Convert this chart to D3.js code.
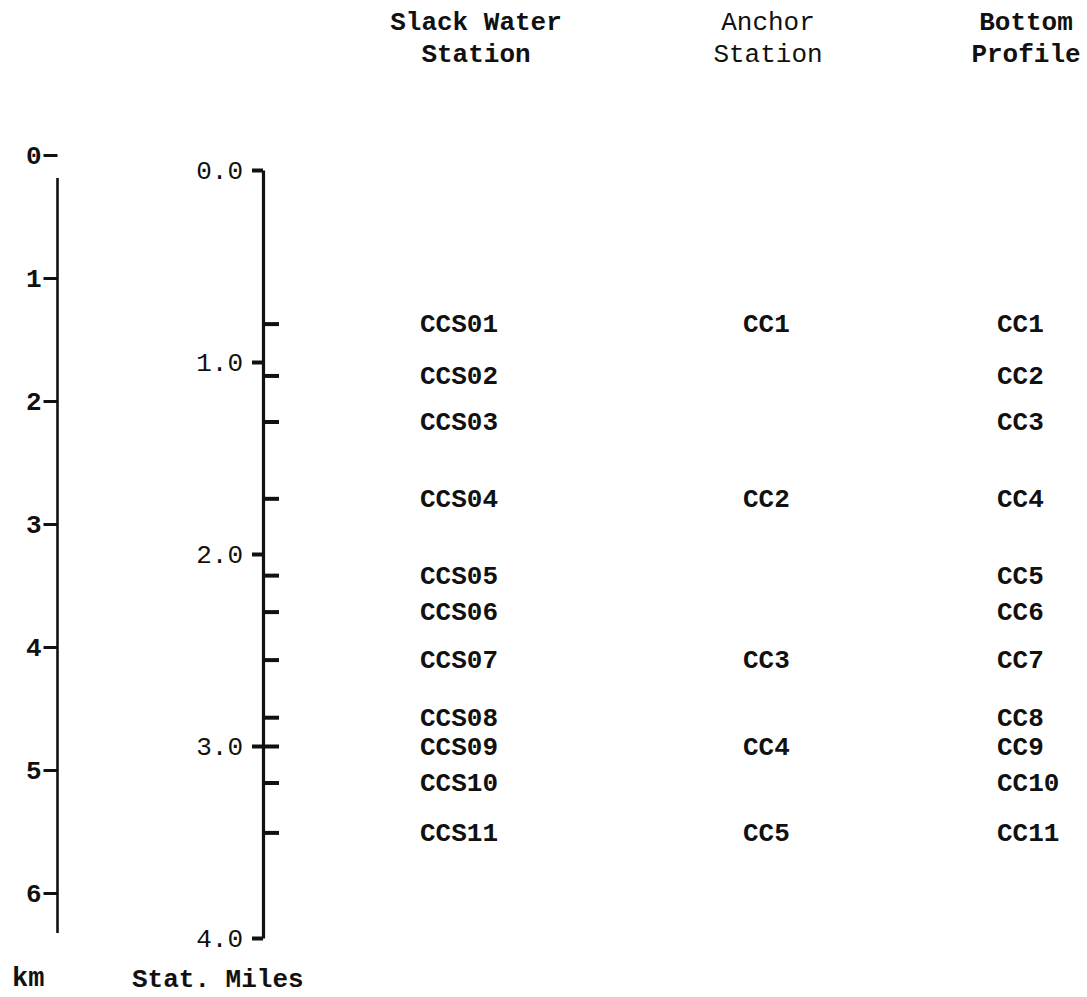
<!DOCTYPE html>
<html>
<head>
<meta charset="utf-8">
<script src="https://cdn.jsdelivr.net/npm/d3@7"></script>
<style>
  html, body { margin: 0; padding: 0; background: #fff; }
  svg { display: block; }
  text { fill: #111; font-family: "Liberation Mono", "DejaVu Sans Mono", monospace; }
</style>
</head>
<body>
<script>
// ---- data ----
const kmTicks = [0, 1, 2, 3, 4, 5, 6];
const mileTicks = [0, 1, 2, 3, 4];
const stationMiles = [0.80, 1.07, 1.31, 1.71, 2.11, 2.30, 2.55, 2.85, 3.00, 3.19, 3.45];
const slackWater = ["CCS01", "CCS02", "CCS03", "CCS04", "CCS05", "CCS06", "CCS07", "CCS08", "CCS09", "CCS10", "CCS11"];
const anchorStation = ["CC1", null, null, "CC2", null, null, "CC3", null, "CC4", null, "CC5"];
const bottomProfile = ["CC1", "CC2", "CC3", "CC4", "CC5", "CC6", "CC7", "CC8", "CC9", "CC10", "CC11"];
const columns = ["Slack Water\nStation", "Anchor\nStation", "Bottom\nProfile"];
const kmTitle = "km";
const mileTitle = "Stat. Miles";

// ---- layout ----
const W = 1087, H = 997;
const svg = d3.select("body").append("svg").attr("width", W).attr("height", H);

const yMiles = d3.scaleLinear().domain([0, 4]).range([170, 938]);
const yKm = d3.scaleLinear().domain([0, 6]).range([155, 893]);

const kmX = 57.5, milesX = 263;
const fs = 26;

// km axis
const kmAxis = d3.axisLeft(yKm).tickValues(kmTicks).tickFormat(d3.format("d"))
  .tickSize(14).tickPadding(2);
const gKm = svg.append("g").attr("transform", `translate(${kmX},0)`).call(kmAxis);
gKm.select(".domain").remove();
gKm.selectAll(".tick line").attr("stroke", "#111").attr("stroke-width", 3);
gKm.selectAll(".tick text").attr("font-size", fs).attr("font-weight", "bold")
  .attr("font-family", "'Liberation Mono', monospace").attr("fill", "#111");
gKm.append("line").attr("x1", 0).attr("x2", 0)
  .attr("y1", yKm(0) + 23).attr("y2", yKm(6) + 40)
  .attr("stroke", "#111").attr("stroke-width", 2.6);

// miles axis (labelled ticks on the left)
const miAxis = d3.axisLeft(yMiles).tickValues(mileTicks).tickFormat(d3.format(".1f"))
  .tickSizeInner(11).tickSizeOuter(0).tickPadding(9);
const gMi = svg.append("g").attr("transform", `translate(${milesX},0)`).call(miAxis);
gMi.select(".domain").attr("stroke", "#111").attr("stroke-width", 3.2);
gMi.selectAll(".tick line").attr("stroke", "#111").attr("stroke-width", 4);
gMi.selectAll(".tick text").attr("font-size", fs).attr("font-family", "'Liberation Mono', monospace")
  .attr("fill", "#111");

// station ticks on the right
const stAxis = d3.axisRight(yMiles).tickValues(stationMiles).tickFormat("")
  .tickSizeInner(16).tickSizeOuter(0);
const gSt = svg.append("g").attr("transform", `translate(${milesX},0)`).call(stAxis);
gSt.select(".domain").remove();
gSt.selectAll(".tick line").attr("stroke", "#111").attr("stroke-width", 4);

// axis titles
svg.append("text").attr("x", 12).attr("y", 986).attr("font-size", 27).attr("font-weight", "bold")
  .attr("font-family", "'Liberation Serif', serif").text(kmTitle);
svg.append("text").attr("x", 132).attr("y", 987).attr("font-size", fs).attr("font-weight", "bold")
  .text(mileTitle);

// column headers
const headerX = d3.scaleOrdinal().domain(columns).range([476, 768, 1026]);
const headerWeight = d3.scaleOrdinal().domain(columns).range(["bold", "normal", "bold"]);
columns.forEach(c => {
  const t = svg.append("text").attr("text-anchor", "middle").attr("font-size", fs)
    .attr("font-weight", headerWeight(c));
  c.split("\n").forEach((line, i) => {
    t.append("tspan").attr("x", headerX(c)).attr("y", 30 + i * 32).text(line);
  });
});

// station labels
const labelX = d3.scaleOrdinal().domain(columns).range([420, 743, 997]);
const series = [slackWater, anchorStation, bottomProfile];
series.forEach((arr, ci) => {
  const rows = arr.map((name, i) => ({ name, m: stationMiles[i] })).filter(d => d.name);
  svg.append("g").selectAll("text").data(rows).join("text")
    .attr("x", labelX(columns[ci]))
    .attr("y", d => yMiles(d.m) + 8.5)
    .attr("font-size", fs)
    .attr("font-weight", "bold")
    .text(d => d.name);
});
</script>
</body>
</html>
